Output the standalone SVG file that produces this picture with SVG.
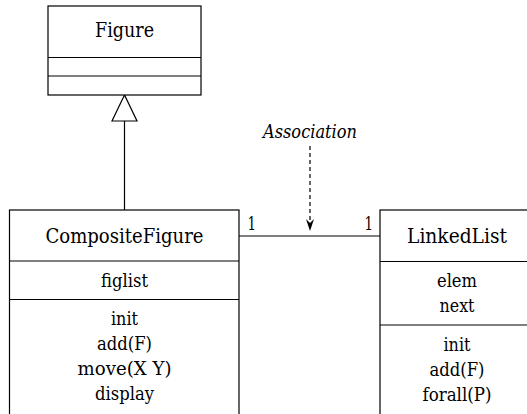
<svg xmlns="http://www.w3.org/2000/svg" width="527" height="414" viewBox="0 0 527 414">
<style>
.box{fill:#fff;stroke:#000;stroke-width:1.2}
.ln{stroke:#000;stroke-width:1.2;fill:none}
text{font-family:"DejaVu Serif","Liberation Serif",serif;fill:#000}
.t{text-anchor:middle}
.title{font-size:20.5px}
.body{font-size:18.6px}
.mult{font-size:18.5px}
</style>
<g id="connectors">
<line class="ln" x1="124.5" y1="121" x2="124.5" y2="210"/>
<polygon class="ln" points="124.5,95 112,121 137,121" fill="#fff"/>
<line class="ln" x1="239" y1="236" x2="380" y2="236"/>
<line x1="310" y1="146" x2="310" y2="221" stroke="#000" stroke-width="1.2" stroke-dasharray="4,3"/>
<path d="M306,219 L310,231 L314,219 L310,223 Z" fill="#000"/>
<text class="t body" x="310" y="138" font-style="italic" textLength="94" lengthAdjust="spacingAndGlyphs">Association</text>
<text class="mult" x="247.5" y="230" textLength="8.5" lengthAdjust="spacingAndGlyphs">1</text>
<text class="mult" x="364.5" y="230" textLength="8.5" lengthAdjust="spacingAndGlyphs">1</text>
</g>
<g id="Figure">
<rect class="box" x="48" y="6" width="153" height="89"/>
<line class="ln" x1="48" y1="57.5" x2="201" y2="57.5"/>
<line class="ln" x1="48" y1="76" x2="201" y2="76"/>
<text class="t title" x="124.5" y="37" textLength="59" lengthAdjust="spacingAndGlyphs">Figure</text>
</g>
<g id="CompositeFigure">
<rect class="box" x="9.5" y="210" width="229.5" height="220"/>
<line class="ln" x1="9.5" y1="261" x2="239" y2="261"/>
<line class="ln" x1="9.5" y1="299.5" x2="239" y2="299.5"/>
<text class="t title" x="124.5" y="243" textLength="158" lengthAdjust="spacingAndGlyphs">CompositeFigure</text>
<text class="t body" x="124.5" y="287" textLength="47" lengthAdjust="spacingAndGlyphs">figlist</text>
<text class="t body" x="124.5" y="325" textLength="27" lengthAdjust="spacingAndGlyphs">init</text>
<text class="t body" x="124.5" y="350" textLength="55" lengthAdjust="spacingAndGlyphs">add(F)</text>
<text class="t body" x="124.5" y="375" textLength="94" lengthAdjust="spacingAndGlyphs">move(X Y)</text>
<text class="t body" x="124.5" y="400" textLength="59" lengthAdjust="spacingAndGlyphs">display</text>
</g>
<g id="LinkedList">
<rect class="box" x="380" y="210" width="160" height="220"/>
<line class="ln" x1="380" y1="261.5" x2="540" y2="261.5"/>
<line class="ln" x1="380" y1="325" x2="540" y2="325"/>
<text class="t title" x="457" y="243" textLength="100" lengthAdjust="spacingAndGlyphs">LinkedList</text>
<text class="t body" x="457" y="287" textLength="40" lengthAdjust="spacingAndGlyphs">elem</text>
<text class="t body" x="457" y="312" textLength="35" lengthAdjust="spacingAndGlyphs">next</text>
<text class="t body" x="457" y="351" textLength="27" lengthAdjust="spacingAndGlyphs">init</text>
<text class="t body" x="457" y="376" textLength="55" lengthAdjust="spacingAndGlyphs">add(F)</text>
<text class="t body" x="457" y="401" textLength="69" lengthAdjust="spacingAndGlyphs">forall(P)</text>
</g>
</svg>
